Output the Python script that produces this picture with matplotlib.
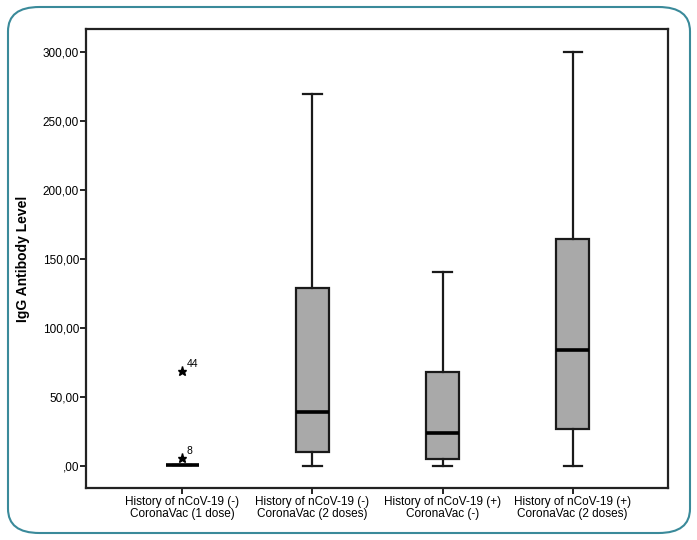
import matplotlib
matplotlib.use('Agg')
import matplotlib.pyplot as plt
from matplotlib.patches import FancyBboxPatch
from matplotlib.ticker import FuncFormatter

groups = ['History of nCoV-19 (-)\nCoronaVac (1 dose)',
          'History of nCoV-19 (-)\nCoronaVac (2 doses)',
          'History of nCoV-19 (+)\nCoronaVac (-)',
          'History of nCoV-19 (+)\nCoronaVac (2 doses)']
whislo = [0.5, 0.0, 0.0, 0.0]
q1 = [0.5, 10.0, 5.0, 27.0]
med = [0.5, 39.0, 24.0, 84.0]
q3 = [0.5, 129.0, 68.0, 165.0]
whishi = [0.5, 270.0, 141.0, 300.0]
outliers = [[69.0, 6.0], [], [], []]
outlier_ids = [['44', '8'], [], [], []]

plt.rcParams['font.family'] = ['Liberation Sans', 'DejaVu Sans']

fig = plt.figure(figsize=(6.97, 5.4), dpi=100)
ax = fig.add_axes([0.1234, 0.0963, 0.8346, 0.8500])

stats = []
for i in range(len(groups)):
    stats.append({'whislo': whislo[i], 'q1': q1[i], 'med': med[i],
                  'q3': q3[i], 'whishi': whishi[i], 'fliers': []})

ax.bxp(stats, positions=[1, 2, 3, 4], widths=0.25, capwidths=0.14,
       patch_artist=True, showfliers=False,
       boxprops=dict(facecolor='#a9a9a9', edgecolor='#1a1a1a', linewidth=1.6),
       medianprops=dict(color='black', linewidth=2.6),
       whiskerprops=dict(color='#1a1a1a', linewidth=1.6),
       capprops=dict(color='#1a1a1a', linewidth=1.6))

for i, pts in enumerate(outliers):
    for v, lab in zip(pts, outlier_ids[i]):
        ax.plot(i + 1, v, marker='*', color='black', markersize=6.5, linestyle='none')
        ax.annotate(lab, (i + 1, v), xytext=(3, 3), textcoords='offset points',
                    fontsize=7.5)

ax.set_xlim(0.26, 4.73)
ax.set_ylim(-16, 317)
ax.set_yticks([0, 50, 100, 150, 200, 250, 300])
ax.yaxis.set_major_formatter(FuncFormatter(
    lambda v, p: ',00' if v == 0 else '%d,00' % v))
ax.set_xticks([1, 2, 3, 4])
ax.set_xticklabels(groups, fontsize=8.5, linespacing=1.0)
ax.tick_params(axis='y', labelsize=8.5, length=4, width=1.2, pad=1)
ax.tick_params(axis='x', length=4, width=1.2, pad=2)
ax.set_ylabel('IgG Antibody Level', fontsize=10, fontweight='bold', labelpad=9)
for s in ax.spines.values():
    s.set_linewidth(1.6)
    s.set_color('#222222')

border = FancyBboxPatch((8 / 697, 7 / 540), 682 / 697, 526 / 540,
                        boxstyle='round,pad=0,rounding_size=0.045',
                        transform=fig.transFigure, fill=False,
                        edgecolor='#3a8a9a', linewidth=1.5, zorder=-1)
fig.patches.append(border)

fig.savefig('out.png', dpi=100)
